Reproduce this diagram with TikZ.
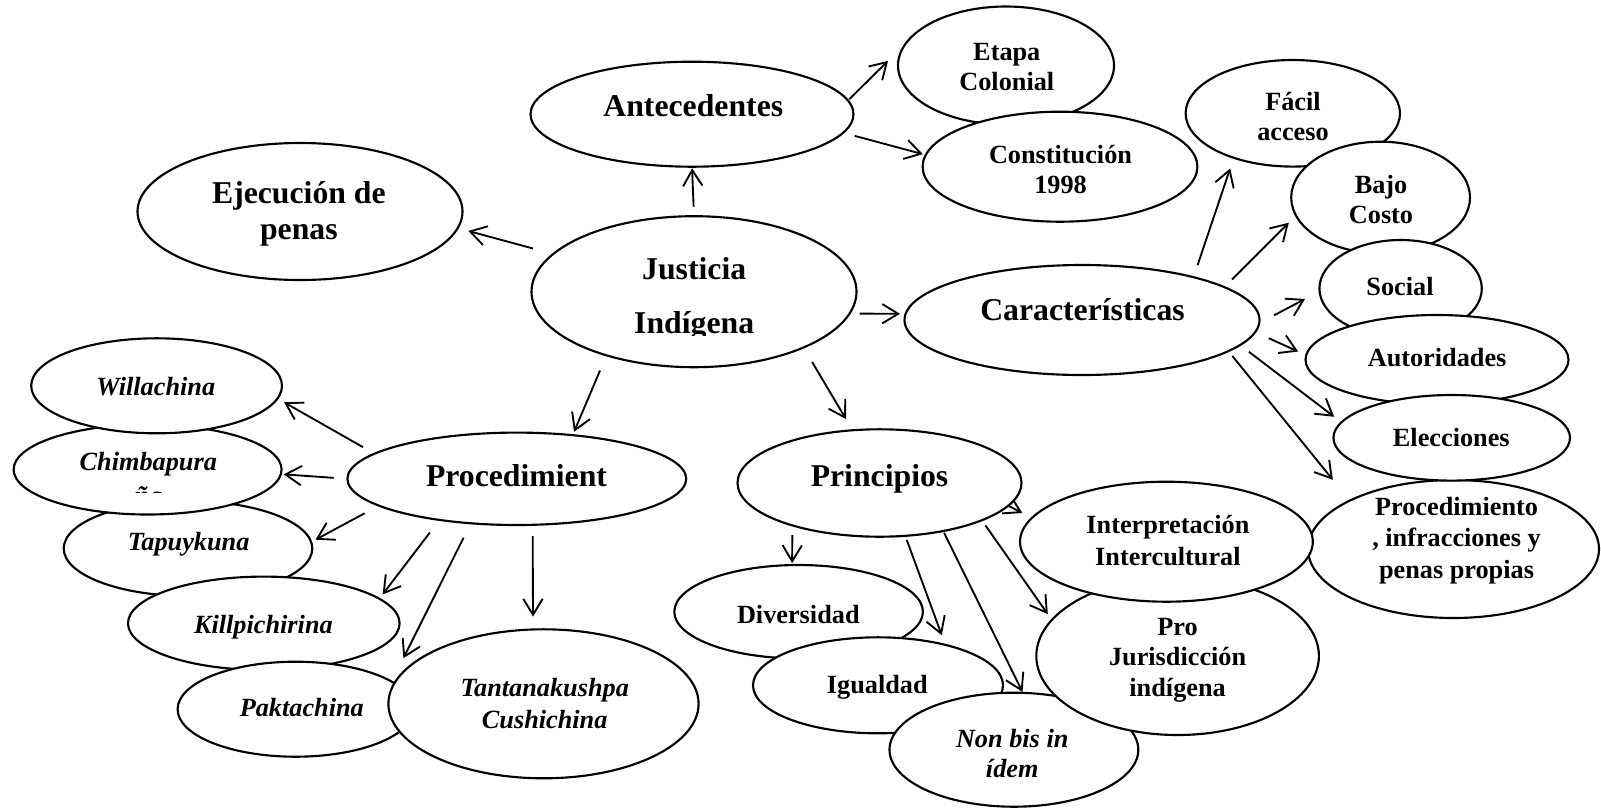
\documentclass[tikz,border=0pt]{standalone}
\usepackage{fontspec}
\setmainfont{Liberation Serif}
\usetikzlibrary{shapes.geometric,arrows.meta,backgrounds}
\newcommand\ml[1]{\vtop{\halign{\hfil##\hfil\cr#1\crcr}}}
\begin{document}
\begin{tikzpicture}[x=0.75pt,y=-0.75pt,
  el/.style 2 args={ellipse,draw,fill=white,line width=1.6pt,inner sep=0pt,outer sep=0pt,minimum width={1.5pt*#1},minimum height={1.5pt*#2}},
  tx/.style={inner sep=0pt,anchor=base},
  big/.style={tx,font=\fontsize{23.8}{27.5}\selectfont\bfseries},
  sm/.style={tx,font=\fontsize{19.7}{22.5}\selectfont\bfseries},
  smi/.style={tx,font=\fontsize{19.7}{23.5}\selectfont\bfseries\itshape},
  arr/.style={line width=1.4pt,-{Straight Barb[length=12pt,width=14.5pt]}},
  g/.style 2 args={shorten <={#1*0.75pt},shorten >={#2*0.75pt}}]
\useasboundingbox (0,0) rectangle (1601,807);

\node[el={162.5}{68.5}] (ej) at (300,211.5) {};
\node[big] (ejT) at (298.9,203.3) {\ml{Ejecución de\cr penas}};
\node[el={161.5}{52.5}] (ant) at (692,114.2) {};
\node[big] (antT) at (693.3,116.7) {Antecedentes};
\node[el={162.5}{75.5}] (jus) at (694,291.7) {};
\begin{scope}
\clip (0,0) rectangle (1601,335.5);
\node[big,font=\fontsize{23.8}{40.5}\selectfont\bfseries] (jusT) at (694.2,279.3) {\ml{Justicia\cr Indígena}};
\end{scope}
\node[el={177.5}{55}] (car) at (1082,320) {};
\node[big] (carT) at (1082.5,320) {Características};

\node[el={108}{59}] (etapa) at (1006,65.5) {};
\node[sm] (etapaT) at (1006.8,60) {\ml{Etapa\cr Colonial}};
\node[el={137.4}{55}] (cons) at (1060,166.7) {};
\node[sm] (consT) at (1060.5,163.3) {\ml{Constitución\cr 1998}};

\node[el={107.2}{53.3}] (facil) at (1292.8,113.3) {};
\node[sm] (facilT) at (1293,110) {\ml{Fácil\cr acceso}};
\node[el={89.4}{55.8}] (bajo) at (1380.6,197.5) {};
\node[sm] (bajoT) at (1381,193.3) {\ml{Bajo\cr Costo}};
\node[el={81.2}{48.5}] (social) at (1400.6,288.5) {};
\node[sm] (socialT) at (1400,295) {Social};
\node[el={131.5}{44.7}] (auto) at (1437,359.7) {};
\node[sm] (autoT) at (1437.1,366.7) {Autoridades};
\node[el={145.5}{69}] (proc2) at (1453.5,549) {};
\node[sm,font=\fontsize{19.7}{23.8}\selectfont\bfseries] (proc2T) at (1456.5,515) {\ml{Procedimiento\cr , infracciones y\cr penas propias}};
\node[el={118.3}{42.8}] (elec) at (1451.7,437.8) {};
\node[sm] (elecT) at (1451.3,446.7) {Elecciones};

\node[el={124.3}{47.5}] (tap) at (188,548.5) {};
\node[smi] (tapT) at (188.6,550) {Tapuykuna};
\node[el={134}{45}] (chim) at (147.6,469.5) {};
\begin{scope}
\clip (0,0) rectangle (1601,492.5);
\node[smi,font=\fontsize{19.7}{25.5}\selectfont\bfseries\itshape] (chimT) at (148.3,470) {\ml{Chimbapura\cr ña}};
\end{scope}
\node[el={125.4}{47.5}] (will) at (156.6,385.8) {};
\node[smi] (willT) at (155.8,395) {Willachina};
\node[el={135.8}{46.7}] (kill) at (263.8,623.3) {};
\node[smi] (killT) at (263.4,633.3) {Killpichirina};
\node[el={118}{47.5}] (pakt) at (295.6,709.2) {};
\node[smi] (paktT) at (301.8,716.7) {Paktachina};
\node[el={155.1}{74.5}] (tant) at (543.5,703.8) {};
\node[smi,font=\fontsize{19.7}{23.7}\selectfont\bfseries\itshape] (tantT) at (544.7,696.7) {\ml{Tantanakushpa\cr Cushichina}};
\node[el={169.4}{46.2}] (procd) at (516.8,478.8) {};
\node[big] (procdT) at (516.5,486.7) {Procedimient};

\node[el={142}{53.7}] (princ) at (879.5,483) {};
\node[big] (princT) at (879.5,486.7) {Principios};
\node[el={124.3}{46.7}] (div) at (798.6,611.7) {};
\node[sm] (divT) at (798.3,623.3) {Diversidad};
\node[el={125}{48}] (igu) at (878,685.3) {};
\node[sm] (iguT) at (877.3,693.3) {Igualdad};
\node[el={124.4}{57}] (nonbis) at (1013.9,749.7) {};
\node[smi,font=\fontsize{19.7}{22.5}\selectfont\bfseries\itshape] (nonbisT) at (1012.2,747) {\ml{Non bis in\cr ídem}};
\node[el={141.3}{79}] (pro) at (1177.6,656) {};
\node[sm,font=\fontsize{19.7}{23.1}\selectfont\bfseries] (proT) at (1177.6,635) {\ml{Pro\cr Jurisdicción\cr indígena}};
\node[el={146.4}{60}] (interp) at (1166.4,541.7) {};
\node[sm,font=\fontsize{19.7}{23.8}\selectfont\bfseries] (interpT) at (1167.9,533.3) {\ml{Interpretación\cr Intercultural}};

\begin{pgfonlayer}{background}
\draw[arr,g={9.5}{1.5}] (jus.90) -- (ant.-90);
\draw[arr,g={21}{11}] (jus.165.7) -- (ej.-6.9);
\draw[arr,g={1.9}{26}] (ant.5.4) -- (etapa.167.7);
\draw[arr,g={12}{3}] (ant.-7.4) -- (cons.175.3);
\draw[arr,g={10}{5.6}] (jus.-8.6) -- (car.178.4);
\draw[arr,g={16.5}{3.7}] (jus.-144.9) -- (procd.38.4);
\draw[arr,g={16.8}{13}] (jus.-27.9) -- (princ.117.8);
\draw[arr,g={12.7}{11.2}] (car.21.2) -- (facil.-143.1);
\draw[arr,g={10.9}{10.2}] (car.13.1) -- (bajo.-168.7);
\draw[arr,g={16.8}{16.4}] (car.-1.0) -- (social.-178.6);
\draw[arr,g={14.9}{8.8}] (car.-4.7) -- (auto.178.7);
\draw[arr,g={11.1}{9.1}] (car.-9.4) -- (elec.172.9);
\draw[arr,g={6.3}{26.8}] (car.-12.4) -- (proc2.155);
\draw[arr,g={13.3}{7.6}] (procd.170.7) -- (will.-6.5);
\draw[arr,g={13.7}{2.8}] (procd.180.8) -- (chim.-2.5);
\draw[arr,g={16.2}{5}] (procd.-169.3) -- (tap.3.7);
\draw[arr,g={16}{5.5}] (procd.-152.8) -- (kill.12.7);
\draw[arr,g={16.2}{26.2}] (procd.-136) -- (pakt.16.9);
\draw[arr,g={11.2}{12.8}] (procd.-71.4) -- (tant.98.6);
\draw[arr,g={-15}{10.9}] (princ.-10) -- (interp.170.4);
\draw[arr,g={9.7}{2}] (princ.-154.2) -- (div.98.1);
\draw[arr,g={4.4}{10.3}] (princ.-64.7) -- (igu.31.4);
\draw[arr,g={2}{1}] (princ.-37.6) -- (nonbis.81.5);
\draw[arr,g={6.4}{7.1}] (princ.-20.6) -- (pro.164.5);
\end{pgfonlayer}
\end{tikzpicture}
\end{document}
